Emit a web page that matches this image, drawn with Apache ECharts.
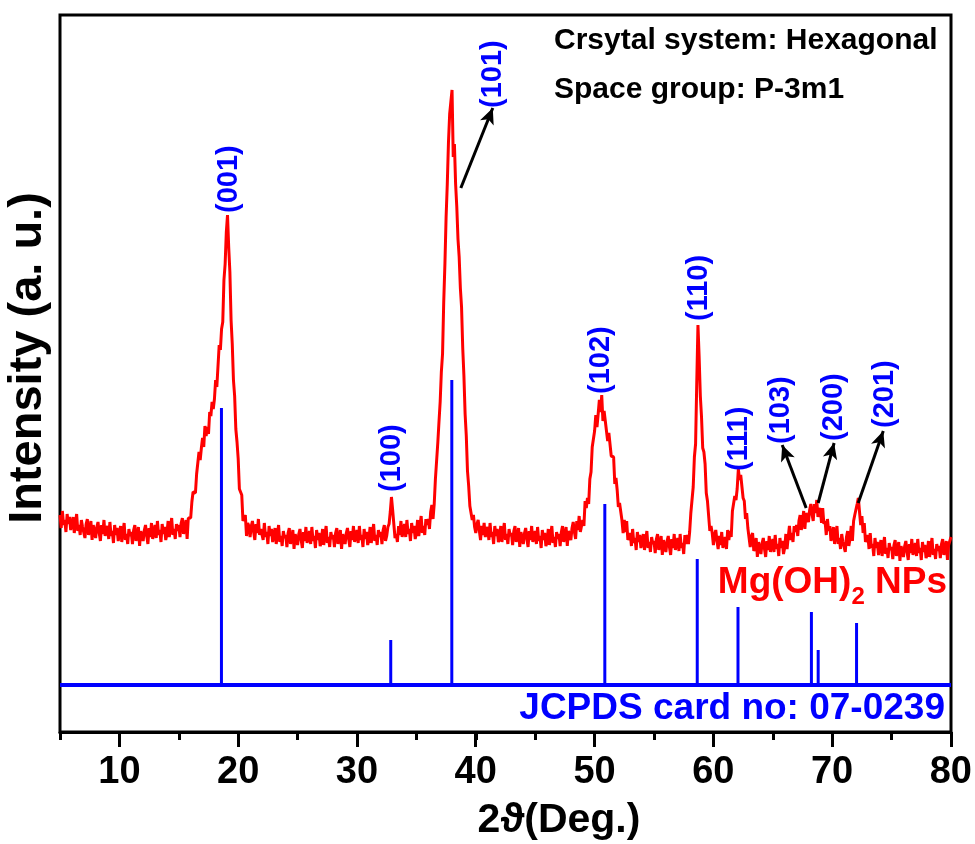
<!DOCTYPE html>
<html>
<head>
<meta charset="utf-8">
<script src="https://cdn.jsdelivr.net/npm/echarts@6/dist/echarts.min.js"></script>
<style>
html,body{margin:0;padding:0;background:#fff;}
#chart{width:975px;height:844px;}
</style>
</head>
<body>
<div id="chart"></div>
<script>
// ---- XRD pattern (red), sampled every 0.1 deg from 5.0 to 80.0 (arbitrary units) ----
const xrdStart = 5.0;
const xrdStep = 0.1;
const xrdValues = [
227,214,231,217,222,210,228,218,225,212,
212,225,209,219,228,211,217,207,222,215,
216,204,218,223,207,212,221,202,217,215,
204,215,220,209,201,217,208,222,206,212,
216,203,220,206,211,199,217,207,214,201,
203,216,200,210,219,202,208,198,213,206,
210,198,212,217,201,206,215,196,211,209,
201,212,217,206,198,214,205,219,203,209,
217,204,221,207,212,200,218,208,215,202,
208,221,205,215,224,207,213,203,218,211,
217,205,219,224,208,213,222,203,224,225,
224,240,250,248,249,268,267,290,282,294,
304,295,316,306,315,308,330,326,340,333,
343,362,355,376,397,392,413,420,462,478,
510,527,495,470,422,398,362,346,313,300,
283,253,253,247,221,221,227,206,219,216,
205,216,221,210,202,218,209,223,207,213,
215,202,219,205,210,198,216,206,213,200,
201,214,198,208,217,200,206,196,211,204,
207,195,209,214,198,203,212,193,208,206,
197,208,213,202,194,210,201,215,199,205,
211,198,215,201,206,194,212,202,209,196,
200,213,197,207,216,199,205,195,210,203,
207,195,209,214,198,203,212,193,208,206,
198,209,214,203,195,211,202,216,200,206,
212,199,216,202,207,195,213,203,210,197,
202,215,199,209,218,201,207,197,212,205,
210,198,212,217,201,206,215,218,230,245,
232,218,204,208,200,216,207,221,205,211,
218,205,222,208,213,201,219,209,216,203,
209,222,206,216,226,209,216,207,223,217,
223,213,230,237,223,238,263,261,299,320,
340,370,388,440,478,525,558,600,628,640,
652,585,598,558,535,503,485,454,435,394,
366,328,306,271,256,236,236,222,227,215,
209,218,222,211,202,216,207,219,205,211,
215,202,219,205,210,198,216,206,213,200,
203,216,200,210,219,202,208,198,213,206,
209,197,211,216,200,205,214,195,210,208,
198,209,214,203,195,211,202,216,200,206,
211,198,215,201,206,194,212,202,209,196,
200,213,197,207,216,199,205,195,210,203,
208,196,210,216,200,206,215,196,211,210,
202,214,220,210,203,221,212,226,210,216,
222,216,241,234,244,238,263,270,295,297,
311,327,315,328,342,330,347,321,331,321,
319,301,309,308,286,284,285,258,264,252,
235,239,238,222,209,222,210,221,202,206,
209,196,213,199,204,192,210,200,207,194,
195,208,192,202,211,194,200,190,205,198,
201,189,203,208,192,197,206,187,202,200,
190,201,206,195,187,203,194,208,192,198,
204,191,208,194,199,188,207,198,207,198,
210,229,230,255,285,298,360,417,385,346,
325,294,290,278,249,241,240,211,216,209,
197,207,212,201,193,206,197,210,194,200,
205,193,212,202,211,205,231,230,246,242,
253,273,262,267,269,244,241,223,229,214,
212,195,206,209,191,195,204,185,200,198,
188,199,204,193,185,201,192,206,190,196,
203,190,207,193,198,186,204,194,201,188,
194,208,193,205,216,202,209,200,216,210,
217,206,221,227,212,221,231,213,229,228,
220,232,238,228,221,238,229,242,225,230,
234,219,234,218,221,207,223,211,216,201,
203,215,198,208,216,198,204,193,208,200,
202,190,205,211,196,203,216,201,221,227,
225,238,244,230,217,226,209,219,200,203,
207,193,209,194,198,186,204,194,200,187,
189,202,186,196,205,188,194,184,199,192,
195,183,197,202,186,191,200,181,196,194,
185,196,201,190,182,198,189,203,187,193,
199,186,203,189,194,182,200,190,197,184,
188,201,185,195,204,187,193,183,198,191,
196,184,198,203,187,192,201,182,197,195,
205
];

// ---- JCPDS 07-0239 reference sticks (blue) ----
const jcpdsPositions = [18.59, 32.84, 37.98, 50.86, 58.64, 62.07, 68.25, 68.82, 72.05];
const jcpdsTops      = [334, 102, 362, 238, 183, 135, 130, 92, 119];
const jcpdsBase = 57;

// ---- Miller index labels ----
const peakLabels = ['(001)', '(100)', '(101)', '(102)', '(110)', '(111)', '(103)', '(200)', '(201)'];
const peakLabelX = [19.20, 32.97, 41.43, 50.53, 58.79, 62.16, 65.70, 70.16, 74.46];
const peakLabelY = [529, 250, 634, 348, 421, 271, 298, 301, 314];

// ---- arrows (from peak to label) ----
const arrowFrom = [[38.74, 554], [67.81, 234], [68.82, 239], [72.19, 239]];
const arrowTo   = [[41.43, 634], [65.79, 297], [70.16, 299], [74.30, 311]];

// ---- axes ----
const xMin = 5, xMax = 80;
const xTickValues = [10, 20, 30, 40, 50, 60, 70, 80];
const yMin = 10, yMax = 727;

const FONT = '"Liberation Sans", Arial, sans-serif';
const BLUE = '#0000ff', RED = '#ff0000';

const xrdData = xrdValues.map((v, i) => [+(xrdStart + i * xrdStep).toFixed(1), v]);
const stickData = jcpdsPositions.map((x, i) => [x, jcpdsTops[i]]);
const labelData = peakLabelX.map((x, i) => [x, peakLabelY[i]]);

const chart = echarts.init(document.getElementById('chart'), null, {renderer: 'canvas'});

const gridGeom = {left: 60, right: 24, top: 15, bottom: 112};

chart.setOption({
  animation: false,
  backgroundColor: '#fff',
  grid: [
    Object.assign({show: true, borderColor: '#000', borderWidth: 3, backgroundColor: 'transparent', containLabel: false}, gridGeom),
    Object.assign({show: false, containLabel: false}, gridGeom)
  ],
  xAxis: [
    {
      type: 'value', gridIndex: 0, min: xMin, max: xMax, interval: 5, position: 'bottom',
      axisLine: {show: true, lineStyle: {color: '#000', width: 3}},
      axisTick: {show: true, inside: false, length: 8, lineStyle: {color: '#000', width: 3}},
      axisLabel: {show: false},
      splitLine: {show: false}
    },
    {
      type: 'value', gridIndex: 1, min: xMin, max: xMax, interval: 5, position: 'bottom',
      axisLine: {show: false},
      axisTick: {show: true, inside: false, length: 15, customValues: xTickValues, lineStyle: {color: '#000', width: 3}},
      axisLabel: {show: true, customValues: xTickValues, fontSize: 38, fontWeight: 'bold', fontFamily: FONT, color: '#000', margin: 22},
      splitLine: {show: false}
    }
  ],
  yAxis: [
    {type: 'value', gridIndex: 0, min: yMin, max: yMax, axisLine: {show: false}, axisTick: {show: false}, axisLabel: {show: false}, splitLine: {show: false}},
    {type: 'value', gridIndex: 1, min: yMin, max: yMax, axisLine: {show: false}, axisTick: {show: false}, axisLabel: {show: false}, splitLine: {show: false}}
  ],
  graphic: [
    {type: 'text', x: 28, y: 358, rotation: Math.PI / 2,
      style: {text: 'Intensity (a. u.)', align: 'center', verticalAlign: 'middle', fontSize: 47, fontWeight: 'bold', fontFamily: FONT, fill: '#000'}},
    {type: 'text', x: 559, y: 821,
      style: {text: '2ϑ(Deg.)', align: 'center', verticalAlign: 'middle', fontSize: 41, fontWeight: 'bold', fontFamily: FONT, fill: '#000'}},
    {type: 'text', x: 554, y: 41,
      style: {text: 'Crsytal system: Hexagonal', align: 'left', verticalAlign: 'middle', fontSize: 30, fontWeight: 'bold', fontFamily: FONT, fill: '#000'}},
    {type: 'text', x: 554, y: 90,
      style: {text: 'Space group: P-3m1', align: 'left', verticalAlign: 'middle', fontSize: 30, fontWeight: 'bold', fontFamily: FONT, fill: '#000'}},
    {type: 'text', x: 947, y: 583, z: 10,
      style: {text: '{a|Mg(OH)}{b|2}{a| NPs}', align: 'right', verticalAlign: 'middle',
        rich: {
          a: {fontSize: 37, fontWeight: 'bold', fontFamily: FONT, fill: RED, lineHeight: 40},
          b: {fontSize: 24, fontWeight: 'bold', fontFamily: FONT, fill: RED, lineHeight: 24, padding: [28, 0, 0, 0]}
        }}},
    {type: 'text', x: 945, y: 709, z: 10,
      style: {text: 'JCPDS card no: 07-0239', align: 'right', verticalAlign: 'middle', fontSize: 37, fontWeight: 'bold', fontFamily: FONT, fill: BLUE}}
  ],
  series: [
    {
      name: 'JCPDS baseline', type: 'line', xAxisIndex: 0, yAxisIndex: 0,
      data: [[xMin, jcpdsBase], [xMax, jcpdsBase]],
      symbol: 'none', lineStyle: {color: BLUE, width: 4}, silent: true, z: 2
    },
    {
      name: 'JCPDS sticks', type: 'custom', xAxisIndex: 0, yAxisIndex: 0,
      data: stickData, encode: {x: 0, y: 1}, silent: true, z: 2,
      renderItem: function (params, api) {
        const x = api.value(0), top = api.value(1);
        const p1 = api.coord([x, jcpdsBase]);
        const p2 = api.coord([x, top]);
        return {type: 'line', shape: {x1: p1[0], y1: p1[1], x2: p2[0], y2: p2[1]}, style: {stroke: BLUE, lineWidth: 3}};
      }
    },
    {
      name: 'Mg(OH)2 NPs', type: 'line', xAxisIndex: 0, yAxisIndex: 0,
      data: xrdData, showSymbol: false, symbol: 'none', sampling: null,
      lineStyle: {color: RED, width: 3}, silent: true, z: 3
    },
    {
      name: 'hkl', type: 'custom', xAxisIndex: 0, yAxisIndex: 0,
      data: labelData, encode: {x: 0, y: 1}, silent: true, z: 4,
      renderItem: function (params, api) {
        const p = api.coord([api.value(0), api.value(1)]);
        return {type: 'text', x: p[0], y: p[1], rotation: Math.PI / 2,
          style: {text: peakLabels[params.dataIndex], align: 'left', verticalAlign: 'middle', fontSize: 29, fontWeight: 'bold', fontFamily: FONT, fill: BLUE}};
      },
      markLine: {
        silent: true, animation: false,
        symbol: ['none', 'arrow'], symbolSize: [11, 16],
        label: {show: false},
        lineStyle: {color: '#000', width: 3, type: 'solid'},
        emphasis: {disabled: true},
        data: arrowFrom.map((f, i) => [{coord: f}, {coord: arrowTo[i]}])
      }
    }
  ]
});
</script>
</body>
</html>
